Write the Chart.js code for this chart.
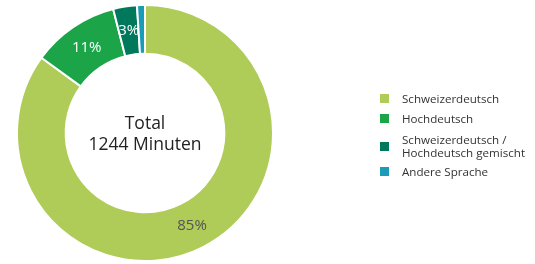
<!DOCTYPE html>
<html>
<head>
<meta charset="utf-8">
<script src="https://cdn.jsdelivr.net/npm/chart.js@4"></script>
<style>
  html, body { margin: 0; padding: 0; background: #fff; }
  #wrap { position: relative; width: 535px; height: 264px; }
  #legend { position: absolute; left: 380px; top: 0; font-family: "Open Sans", sans-serif; font-size: 11.6px; color: #333; }
  .item { position: absolute; left: 0; display: flex; align-items: center; white-space: nowrap; line-height: 13px; }
  .box { width: 9px; height: 9px; margin-right: 13px; flex: none; }
</style>
</head>
<body>
<div id="wrap">
  <canvas id="donutChart" width="535" height="264"></canvas>
  <div id="legend"></div>
</div>
<script>
// chart data
const labels = ["Schweizerdeutsch", "Hochdeutsch", "Schweizerdeutsch /\nHochdeutsch gemischt", "Andere Sprache"];
const percentValues = [85, 11, 3, 1];
const colors = ["#afcb58", "#1ba548", "#00785b", "#1a9cb7"];
const labelColors = ["#555555", "#ffffff", "#ffffff", "#ffffff"];
const totalText = ["Total", "1244 Minuten"];

// legend (html, since one label is two lines)
const legendTops = [92, 112, 133, 165];
const legend = document.getElementById("legend");
labels.forEach((l, i) => {
    const item = document.createElement("div");
    item.className = "item";
    item.style.top = legendTops[i] + "px";
    item.innerHTML = '<span class="box" style="background:' + colors[i] + '"></span><span>' + l.replace("\n", "<br>") + '</span>';
    legend.appendChild(item);
});

// percent labels on the slices + text in the middle
const donutText = {
    id: "donutText",
    afterDatasetsDraw(chart) {
        const ctx = chart.ctx;
        const meta = chart.getDatasetMeta(0);
        ctx.save();
        ctx.textAlign = "center";
        ctx.textBaseline = "middle";
        ctx.font = "15px 'Open Sans', sans-serif";
        meta.data.forEach((arc, i) => {
            if (percentValues[i] < 2) return;
            const p = arc.tooltipPosition();
            ctx.fillStyle = labelColors[i];
            ctx.fillText(percentValues[i] + "%", p.x, p.y);
        });
        const c = meta.data[0];
        ctx.fillStyle = "#222";
        ctx.font = "17.5px 'Open Sans', sans-serif";
        ctx.fillText(totalText[0], c.x, c.y - 9);
        ctx.fillText(totalText[1], c.x, c.y + 12);
        ctx.restore();
    }
};

const ctx = document.getElementById("donutChart").getContext("2d");
const donutChart = new Chart(ctx, {
    type: "doughnut",
    data: {
        labels: labels,
        datasets: [{
            data: percentValues,
            backgroundColor: colors,
            borderColor: "#ffffff",
            borderWidth: 2
        }]
    },
    options: {
        responsive: false,
        animation: false,
        cutout: "62%",
        layout: { padding: { left: 16, right: 261, top: 4, bottom: 2 } },
        plugins: {
            legend: { display: false },
            tooltip: { enabled: false }
        }
    },
    plugins: [donutText]
});
</script>
</body>
</html>
